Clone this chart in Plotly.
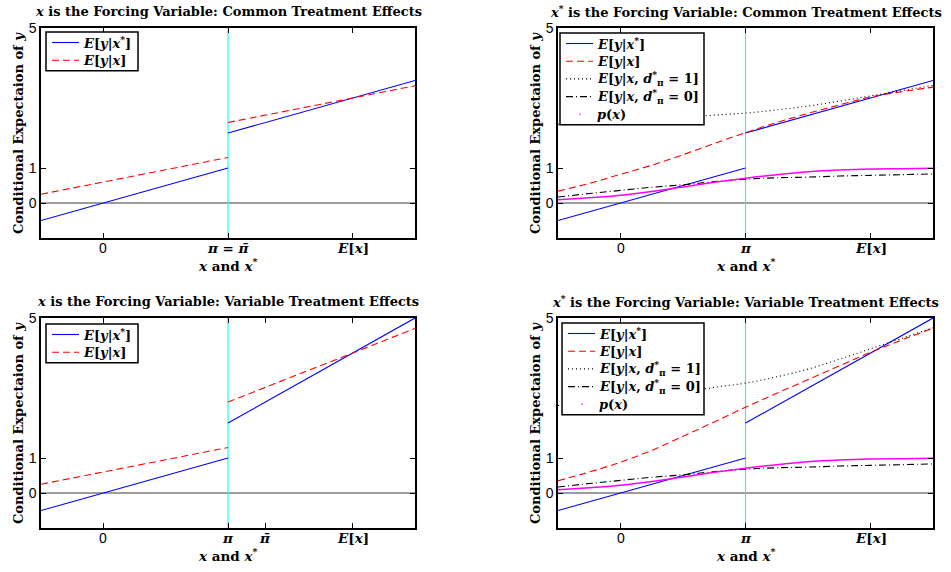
import plotly.graph_objects as go

# ---------------------------------------------------------------- data
X_RANGE = [-0.5, 2.5]
Y_RANGE = [-1.0, 5.0]
PI_POS = 1.0          # cutoff pi
PIBAR_POS = 1.3       # pi-bar (variable effects panel)
EX_POS = 2.0          # E[x]

# x grid for the smooth conditional-expectation curves
x_grid = [-0.5, -0.25, 0.0, 0.25, 0.5, 0.75, 1.0, 1.25, 1.5, 1.75, 2.0, 2.25, 2.5]

# probability of treatment given x
p_x = [0.09, 0.15, 0.22, 0.33, 0.46, 0.59, 0.71, 0.81, 0.89, 0.94, 0.97, 0.98, 0.99]
# E[y | x, d*=0]
e_y_d0 = [0.17, 0.27, 0.36, 0.45, 0.52, 0.61, 0.68, 0.72, 0.74, 0.77, 0.79, 0.81, 0.83]
# E[y | x, d*=1], common and variable effects
e_y_d1_common = [2.25, 2.29, 2.33, 2.38, 2.44, 2.51, 2.57, 2.66, 2.77, 2.91, 3.06, 3.21, 3.36]
e_y_d1_variable = [2.50, 2.58, 2.66, 2.76, 2.88, 3.02, 3.14, 3.32, 3.54, 3.82, 4.12, 4.42, 4.72]
# E[y | x] when x* is the forcing variable
e_yx_common_smooth = [0.34, 0.56, 0.82, 1.08, 1.38, 1.70, 2.01, 2.30, 2.56, 2.80, 3.03, 3.18, 3.31]
e_yx_variable_smooth = [0.35, 0.60, 0.88, 1.22, 1.62, 2.03, 2.45, 2.85, 3.24, 3.63, 4.02, 4.37, 4.71]

# E[y | x*]: piecewise linear, below / above the cutoff
xs_below = [-0.5, 1.0]
xs_above = [1.0, 2.5]
e_yxstar_below = [-0.5, 1.0]
e_yxstar_common_above = [2.0, 3.5]
e_yxstar_variable_above = [2.0, 5.0]

# E[y | x] when x is the forcing variable
e_yx_common_below = [0.25, 1.3]
e_yx_common_above = [2.3, 3.35]
e_yx_variable_below = [0.25, 1.3]
e_yx_variable_above = [2.6, 4.7]

# ---------------------------------------------------------------- style
W, H = 951, 572
SERIF = "DejaVu Serif"
SANS = "Liberation Sans"
BLUE = "#0000ff"
RED = "#ff0000"
MAGENTA = "#ff00ff"
CYAN = "#00ffff"
DASH = "7px,4px"
DOT = "1px,3px"
DASHDOT = "7px,3px,1px,3px"

# pixel boxes of the four panels: (left, right, top, bottom)
panels = {
    "tl": (41, 415, 28, 238),
    "tr": (558, 933, 28, 238),
    "bl": (41, 415, 318, 528),
    "br": (558, 933, 318, 528),
}
axis_ids = {"tl": ("x", "y"), "tr": ("x2", "y2"), "bl": ("x3", "y3"), "br": ("x4", "y4")}

def px_x(v):
    return v / W

def px_y(v):
    return 1 - v / H

def join(xa, ya, xb, yb):
    return xa + [None] + xb, ya + [None] + yb

LBL_YXSTAR = "<b><i>E</i>[<i>y</i>|<i>x</i><sup>*</sup>]</b>"
LBL_YX = "<b><i>E</i>[<i>y</i>|<i>x</i>]</b>"
LBL_D1 = "<b><i>E</i>[<i>y</i>|<i>x</i>, <i>d</i><sup>*</sup><sub>π</sub> = 1]</b>"
LBL_D0 = "<b><i>E</i>[<i>y</i>|<i>x</i>, <i>d</i><sup>*</sup><sub>π</sub> = 0]</b>"
LBL_P = "<b><i>p</i>(<i>x</i>)</b>"

fig = go.Figure()

def add(key, x, y, name, color, dash="solid", width=1.1, shape="linear"):
    xa, ya = axis_ids[key]
    fig.add_trace(go.Scatter(
        x=x, y=y, mode="lines", name=name, xaxis=xa, yaxis=ya,
        line=dict(color=color, width=width, dash=dash, shape=shape, smoothing=1.0),
        showlegend=False, connectgaps=False,
    ))

def reference_lines(key):
    xa, ya = axis_ids[key]
    # horizontal zero line
    fig.add_trace(go.Scatter(x=X_RANGE, y=[0, 0], mode="lines", xaxis=xa, yaxis=ya,
                             line=dict(color="#3a3a3a", width=1), showlegend=False,
                             hoverinfo="skip"))
    # vertical cutoff line
    fig.add_trace(go.Scatter(x=[PI_POS, PI_POS], y=Y_RANGE, mode="lines", xaxis=xa, yaxis=ya,
                             line=dict(color=CYAN, width=1.1), showlegend=False,
                             hoverinfo="skip"))

legend_entries = {}

# x is the forcing variable
for key, red_b, red_a, blue_a in [
    ("tl", e_yx_common_below, e_yx_common_above, e_yxstar_common_above),
    ("bl", e_yx_variable_below, e_yx_variable_above, e_yxstar_variable_above),
]:
    reference_lines(key)
    bx, by = join(xs_below, e_yxstar_below, xs_above, blue_a)
    add(key, bx, by, LBL_YXSTAR, BLUE)
    rx, ry = join(xs_below, red_b, xs_above, red_a)
    add(key, rx, ry, LBL_YX, RED, dash=DASH)
    legend_entries[key] = [(LBL_YXSTAR, BLUE, "solid"), (LBL_YX, RED, DASH)]

# x* is the forcing variable
for key, blue_a, red_s, d1 in [
    ("tr", e_yxstar_common_above, e_yx_common_smooth, e_y_d1_common),
    ("br", e_yxstar_variable_above, e_yx_variable_smooth, e_y_d1_variable),
]:
    reference_lines(key)
    bx, by = join(xs_below, e_yxstar_below, xs_above, blue_a)
    add(key, bx, by, LBL_YXSTAR, BLUE)
    add(key, x_grid, red_s, LBL_YX, RED, dash=DASH, shape="spline")
    add(key, x_grid, d1, LBL_D1, "#000000", dash=DOT, shape="spline")
    add(key, x_grid, e_y_d0, LBL_D0, "#000000", dash=DASHDOT, shape="spline")
    add(key, x_grid, p_x, LBL_P, MAGENTA, width=1.5, shape="spline")
    legend_entries[key] = [(LBL_YXSTAR, BLUE, "solid"), (LBL_YX, RED, DASH),
                           (LBL_D1, "#000000", DOT), (LBL_D0, "#000000", DASHDOT),
                           (LBL_P, MAGENTA, "point")]

# ---------------------------------------------------------------- axes
EXL = "<b><i>E</i>[<i>x</i>]</b>"
x_ticks = {
    "tl": ([0, PI_POS, EX_POS], ["0", "<b><i>π</i> = <i>π̄</i></b>", EXL]),
    "tr": ([0, PI_POS, EX_POS], ["0", "<b><i>π</i></b>", EXL]),
    "bl": ([0, PI_POS, PIBAR_POS, EX_POS], ["0", "<b><i>π</i></b>", "<b><i>π̄</i></b>", EXL]),
    "br": ([0, PI_POS, EX_POS], ["0", "<b><i>π</i></b>", EXL]),
}
legend_box = {  # left offset, top offset, width (pixels)
    "tl": (5, 4, 92), "bl": (5, 6, 92),
    "tr": (2, 5, 144), "br": (4, 5, 142),
}
ROW0, ROWSTEP = 10.5, 17.7

layout = dict(
    width=W, height=H, autosize=False,
    margin=dict(l=0, r=0, t=0, b=0, pad=0, autoexpand=False),
    paper_bgcolor="white", plot_bgcolor="white",
    showlegend=False,
    annotations=[], shapes=[],
)

for key, (l, r, t, b) in panels.items():
    xa, ya = axis_ids[key]
    xname = "xaxis" if xa == "x" else "xaxis" + xa[1:]
    yname = "yaxis" if ya == "y" else "yaxis" + ya[1:]
    tv, tt = x_ticks[key]
    layout[xname] = dict(
        domain=[px_x(l), px_x(r)], range=X_RANGE, anchor=ya,
        tickmode="array", tickvals=tv, showticklabels=False,
        ticks="inside", ticklen=5, tickcolor="black", tickwidth=1,
        showline=True, linecolor="black", linewidth=1.5, mirror="allticks",
        showgrid=False, zeroline=False, automargin=False,
    )
    layout[yname] = dict(
        domain=[px_y(b), px_y(t)], range=Y_RANGE, anchor=xa,
        tickmode="array", tickvals=[0, 1, 5], ticktext=["0", "1", "5"],
        ticks="inside", ticklen=5, tickcolor="black", tickwidth=1,
        showline=True, linecolor="black", linewidth=1.5, mirror="allticks",
        showgrid=False, zeroline=False, automargin=False,
        tickfont=dict(family=SANS, size=14, color="black"),
    )

    # legend box drawn over the curves
    entries = legend_entries[key]
    dx, dy, bw = legend_box[key]
    bl_, bt_ = l + dx, t + dy
    bh = 2 * ROW0 + (len(entries) - 1) * ROWSTEP
    layout["shapes"].append(dict(
        type="rect", xref="paper", yref="paper", layer="above",
        x0=px_x(bl_), x1=px_x(bl_ + bw), y0=px_y(bt_ + bh), y1=px_y(bt_),
        fillcolor="white", line=dict(color="black", width=1.5)))
    for i, (lbl, col, dsh) in enumerate(entries):
        ry = bt_ + ROW0 + i * ROWSTEP
        if dsh == "point":
            layout["shapes"].append(dict(
                type="circle", xref="paper", yref="paper", layer="above",
                x0=px_x(bl_ + 19), x1=px_x(bl_ + 21), y0=px_y(ry + 1), y1=px_y(ry - 1),
                fillcolor="#ff66ff", line=dict(width=0)))
        else:
            layout["shapes"].append(dict(
                type="line", xref="paper", yref="paper", layer="above",
                x0=px_x(bl_ + 6), x1=px_x(bl_ + 33), y0=px_y(ry), y1=px_y(ry),
                line=dict(color=col, width=1.1, dash=dsh)))
        layout["annotations"].append(dict(
            text=lbl, x=px_x(bl_ + 35), y=px_y(ry), xref="paper", yref="paper",
            showarrow=False, xanchor="left", yanchor="middle",
            font=dict(family=SERIF, size=13, color="black")))

    # x tick labels
    x0, x1 = X_RANGE
    for v, txt in zip(tv, tt):
        fx = px_x(l + (v - x0) / (x1 - x0) * (r - l))
        fam = SANS if txt == "0" else SERIF
        layout["annotations"].append(dict(
            text=txt, x=fx, y=px_y(b + 10), xref="paper", yref="paper",
            showarrow=False, xanchor="center", yanchor="middle",
            font=dict(family=fam, size=14 if fam == SANS else 13.5, color="black")))
    cx = px_x((l + r) / 2)
    star = "<sup>*</sup>" if key in ("tr", "br") else ""
    kind = "Common" if key in ("tl", "tr") else "Variable"
    layout["annotations"] += [
        dict(text=f"<b><i>x</i>{star} is the Forcing Variable: {kind} Treatment Effects</b>",
             x=cx, y=px_y(t - 17), xref="paper", yref="paper", showarrow=False,
             xanchor="center", yanchor="middle",
             font=dict(family=SERIF, size=13, color="black")),
        dict(text="<b><i>x</i> and <i>x</i><sup>*</sup></b>",
             x=cx, y=px_y(b + 27), xref="paper", yref="paper", showarrow=False,
             xanchor="center", yanchor="middle",
             font=dict(family=SERIF, size=13.5, color="black")),
        dict(text="<b>Conditional Expectaion of <i>y</i></b>", textangle=-90,
             x=px_x(l - 23), y=px_y((t + b) / 2), xref="paper", yref="paper",
             showarrow=False, xanchor="center", yanchor="middle",
             font=dict(family=SERIF, size=13, color="black")),
    ]

fig.update_layout(**layout)
fig.write_html(
    "out.html",
    post_script="document.body.style.margin='0';document.body.style.overflow='hidden';",
)
